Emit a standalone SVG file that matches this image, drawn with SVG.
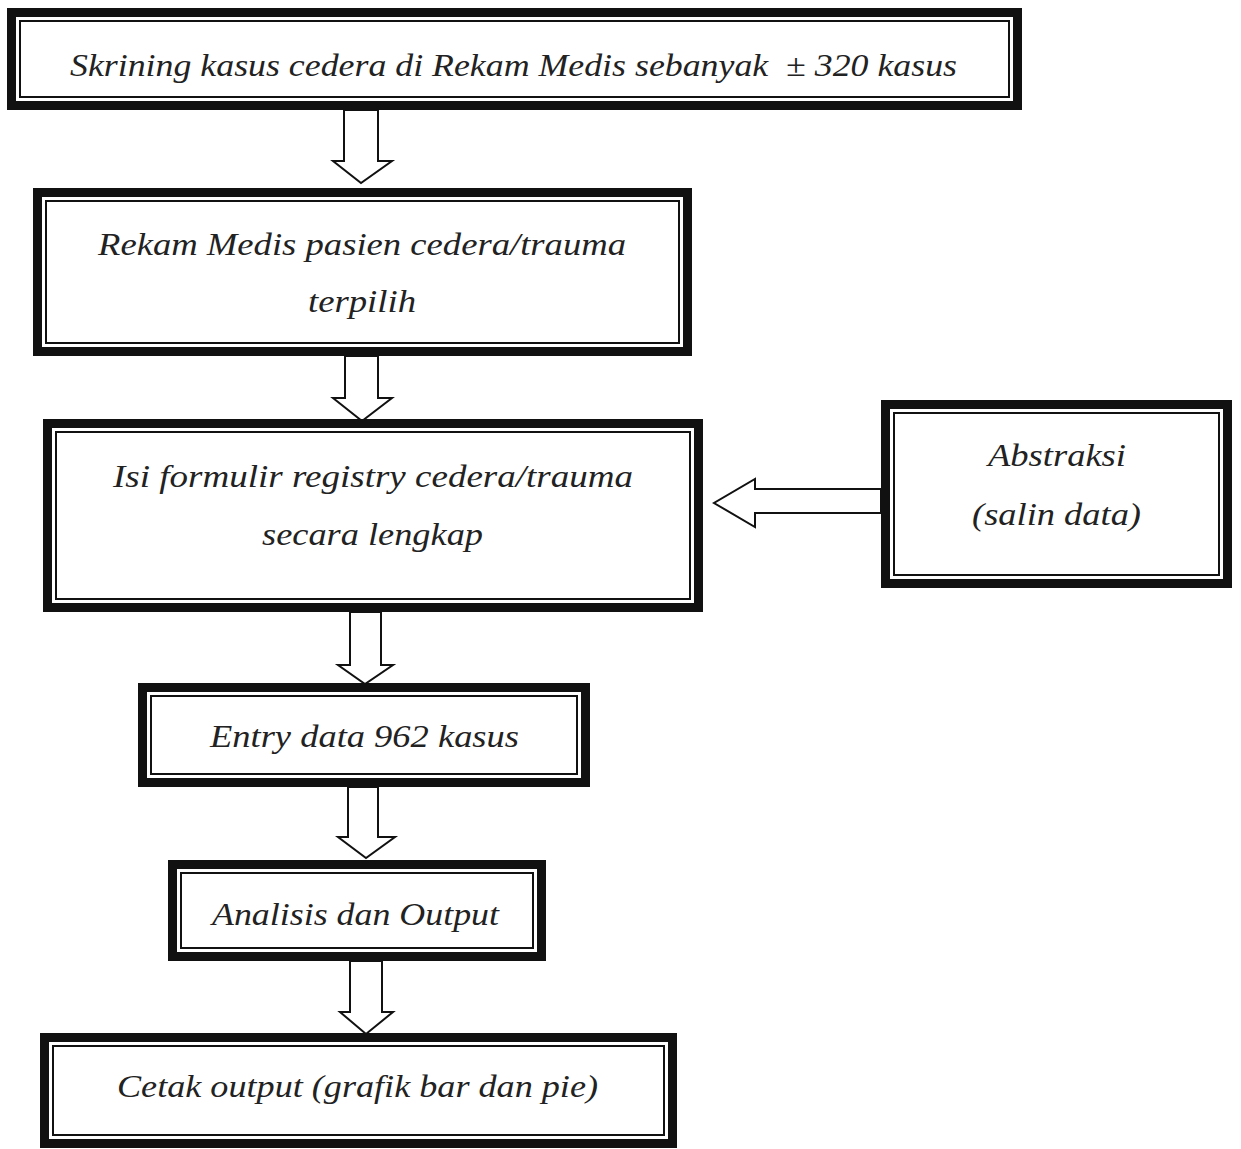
<svg xmlns="http://www.w3.org/2000/svg" width="1241" height="1149" viewBox="0 0 1241 1149">
<style>
.outer{fill:#fff;stroke:#111;stroke-width:9}
.inner{fill:none;stroke:#111;stroke-width:2}
.arr{fill:#fff;stroke:#111;stroke-width:2;stroke-linejoin:miter}
.t{font-family:"Liberation Serif","DejaVu Serif",serif;font-style:italic;font-size:31px;fill:#222;white-space:pre}
</style>
<rect width="1241" height="1149" fill="#fff"/>
<g id="connectors">
<polygon class="arr" points="344,110 378,110 378,161 392,161 361,183 333,161 344,161"/>
<polygon class="arr" points="345,356 378,356 378,398 392,398 362,421 333,398 345,398"/>
<polygon class="arr" points="350,612 381,612 381,665 393,665 365,684 338,665 350,665"/>
<polygon class="arr" points="348,787 378,787 378,837 395,837 366,858 338,837 348,837"/>
<polygon class="arr" points="350,961 382,961 382,1012 393,1012 366,1034 340,1012 350,1012"/>
<polygon class="arr" points="881,489 755,489 755,479 714,503 755,527 755,513 881,513"/>
</g>
<g id="n1">
<rect class="outer" x="11.5" y="12.5" width="1006" height="93"/>
<rect class="inner" x="20" y="21" width="989" height="76"/>
<text class="t" x="70" y="76" textLength="887" lengthAdjust="spacingAndGlyphs">Skrining kasus cedera di Rekam Medis sebanyak  ± 320 kasus</text>
</g>
<g id="n2">
<rect class="outer" x="37.5" y="192.5" width="650" height="159"/>
<rect class="inner" x="46" y="201" width="633" height="142"/>
<text class="t" x="98" y="255" textLength="528" lengthAdjust="spacingAndGlyphs">Rekam Medis pasien cedera/trauma</text>
<text class="t" x="308" y="312" textLength="108" lengthAdjust="spacingAndGlyphs">terpilih</text>
</g>
<g id="n3">
<rect class="outer" x="47.5" y="423.5" width="651" height="184"/>
<rect class="inner" x="56" y="432" width="634" height="167"/>
<text class="t" x="113" y="487" textLength="520" lengthAdjust="spacingAndGlyphs">Isi formulir registry cedera/trauma</text>
<text class="t" x="262" y="545" textLength="221" lengthAdjust="spacingAndGlyphs">secara lengkap</text>
</g>
<g id="n4">
<rect class="outer" x="885.5" y="404.5" width="342" height="179"/>
<rect class="inner" x="894" y="413" width="325" height="162"/>
<text class="t" x="988" y="466" textLength="138" lengthAdjust="spacingAndGlyphs">Abstraksi</text>
<text class="t" x="972" y="525" textLength="169" lengthAdjust="spacingAndGlyphs">(salin data)</text>
</g>
<g id="n5">
<rect class="outer" x="142.5" y="687.5" width="443" height="95"/>
<rect class="inner" x="151" y="696" width="426" height="78"/>
<text class="t" x="210" y="747" textLength="309" lengthAdjust="spacingAndGlyphs">Entry data 962 kasus</text>
</g>
<g id="n6">
<rect class="outer" x="172.5" y="864.5" width="369" height="92"/>
<rect class="inner" x="181" y="873" width="352" height="75"/>
<text class="t" x="212" y="925" textLength="287" lengthAdjust="spacingAndGlyphs">Analisis dan Output</text>
</g>
<g id="n7">
<rect class="outer" x="44.5" y="1037.5" width="628" height="106"/>
<rect class="inner" x="53" y="1046" width="611" height="89"/>
<text class="t" x="117" y="1097" textLength="481" lengthAdjust="spacingAndGlyphs">Cetak output (grafik bar dan pie)</text>
</g>
</svg>
